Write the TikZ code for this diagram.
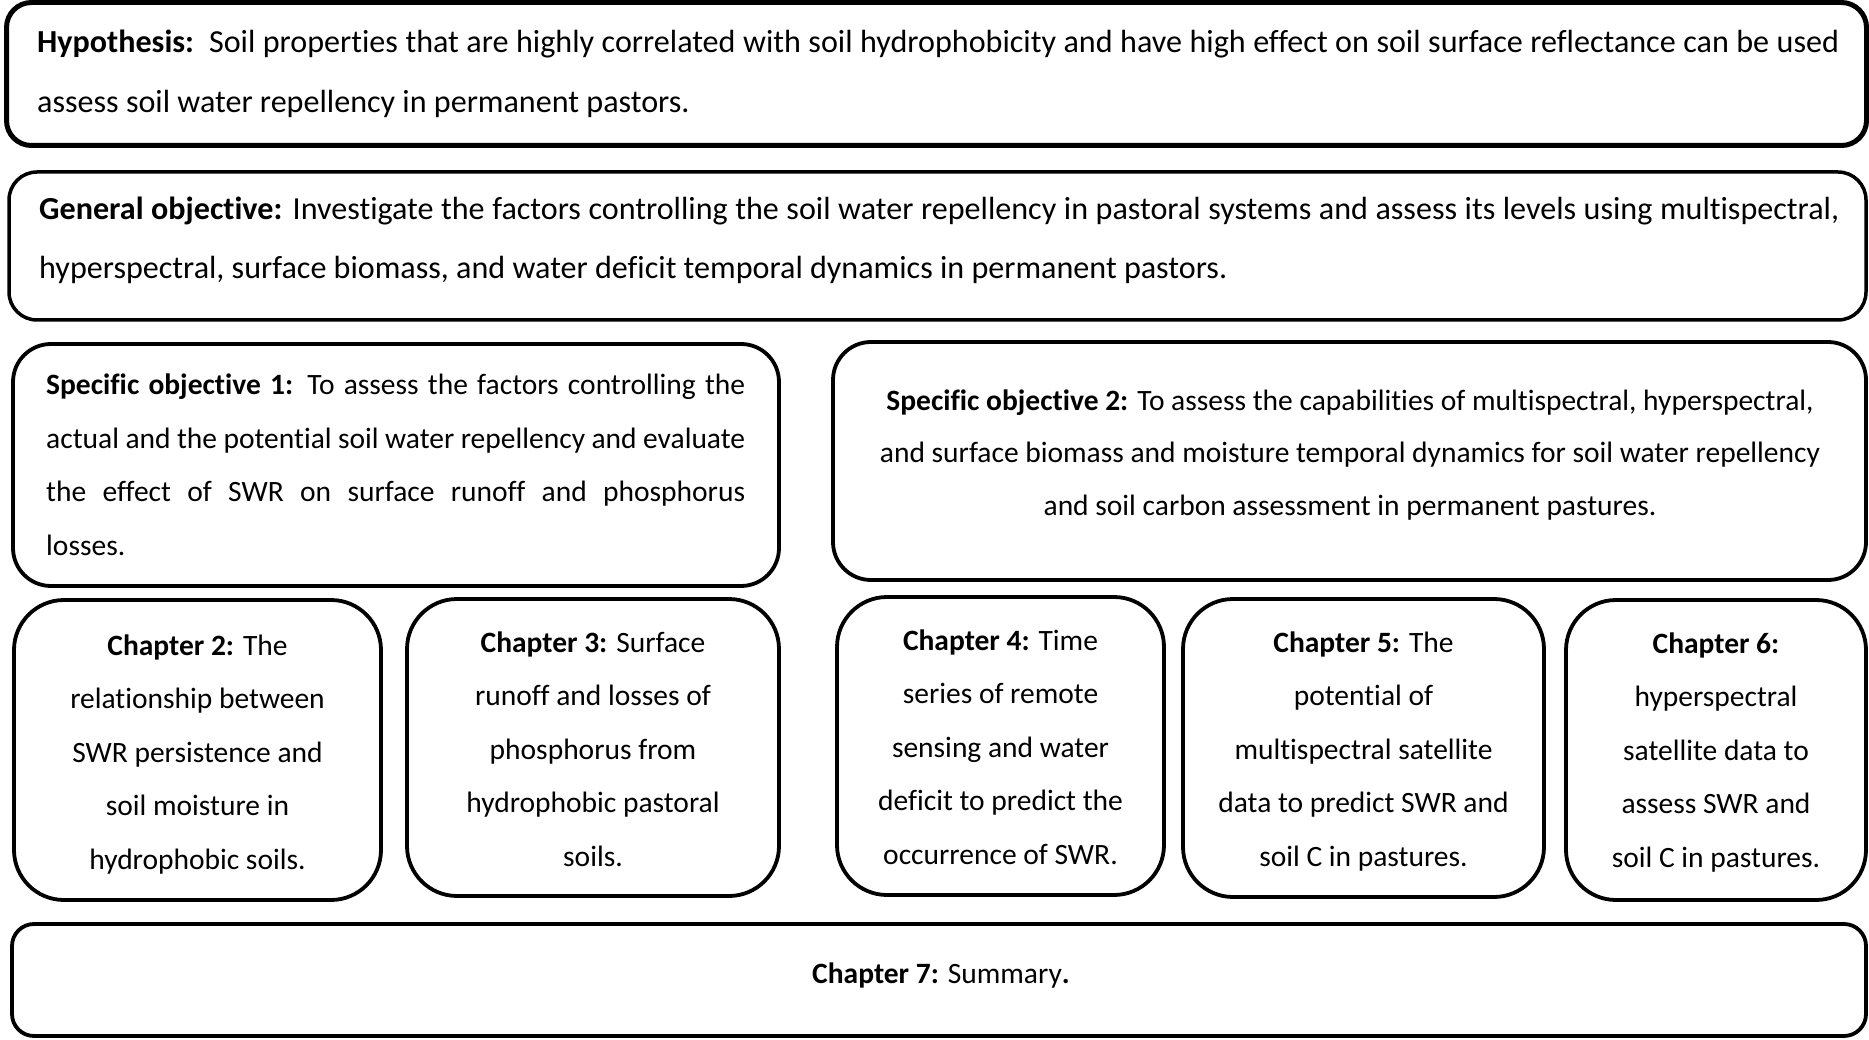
\documentclass[tikz,border=0pt]{standalone}
\usepackage{fontspec}
\setmainfont{Carlito}[Ligatures=NoCommon]
\tikzset{
  frame/.style={draw=black, line width=3.8pt, rounded corners=50pt, inner sep=0pt, fill=white},
  txt/.style={inner sep=0pt, anchor=base, font=\fontsize{29.5}{53.5}\selectfont},
  bigtxt/.style={inner sep=0pt, anchor=base west, font=\fontsize{32.1}{59.5}\selectfont},
}
\newcommand{\cbox}[2]{\parbox[t]{#1}{\centering #2}}
\newcommand{\jline}[1]{\makebox[\linewidth][s]{#1}}
\begin{document}
\begin{tikzpicture}[x=1pt,y=-1pt]
\useasboundingbox[fill=white] (0,0) rectangle (1869,1040);
% boxes
\node[frame, line width=5pt, rounded corners=25pt, minimum width=1860pt, minimum height=143pt] (hyp) at (936.5,74) {};
\node[frame, line width=3.5pt, rounded corners=28pt, minimum width=1857pt, minimum height=148pt] (gen) at (937.5,246) {};
\node[frame, rounded corners=38pt, minimum width=766pt, minimum height=242pt] (so1) at (396,465) {};
\node[frame, rounded corners=38pt, minimum width=1033pt, minimum height=238pt] (so2) at (1349.5,461) {};
\node[frame, minimum width=367pt, minimum height=300pt] (ch2) at (197.5,750) {};
\node[frame, minimum width=372pt, minimum height=297pt] (ch3) at (593,747.5) {};
\node[frame, minimum width=327pt, minimum height=298pt] (ch4) at (1000.5,746) {};
\node[frame, minimum width=361pt, minimum height=298pt] (ch5) at (1363.5,748) {};
\node[frame, minimum width=300pt, minimum height=300pt] (ch6) at (1716,750) {};
\node[frame, rounded corners=22pt, minimum width=1854pt, minimum height=112pt] (ch7) at (939,980) {};
% texts
\node[bigtxt] (hyptxt) at (37,53) {\parbox[t]{1802pt}{\jline{\textbf{Hypothesis:}\ \ Soil properties that are highly correlated with soil hydrophobicity and have high effect on soil surface reflectance can be used}\\ assess soil water repellency in permanent pastors.}};
\node[bigtxt, font=\fontsize{32.1}{58.5}\selectfont] (gentxt) at (39,220) {\parbox[t]{1800pt}{\jline{\textbf{General objective:} Investigate the factors controlling the soil water repellency in pastoral systems and assess its levels using multispectral,}\\ hyperspectral, surface biomass, and water deficit temporal dynamics in permanent pastors.}};
\node[txt, anchor=base west] (so1txt) at (46,395) {\parbox[t]{699pt}{\jline{\textbf{Specific objective 1:} To assess the factors controlling the}\\ \jline{actual and the potential soil water repellency and evaluate}\\ \jline{the effect of SWR on surface runoff and phosphorus}\\ losses.}};
\node[txt, font=\fontsize{29.5}{52.5}\selectfont] (so2txt) at (1350,410) {\cbox{1000pt}{\textbf{Specific objective 2:} To assess the capabilities of multispectral, hyperspectral,\\ and surface biomass and moisture temporal dynamics for soil water repellency\\ and soil carbon assessment in permanent pastures.}};
\node[txt] (ch2txt) at (197.5,655) {\cbox{340pt}{\textbf{Chapter 2:} The\\ relationship between\\ SWR persistence and\\ soil moisture in\\ hydrophobic soils.}};
\node[txt] (ch3txt) at (593,652) {\cbox{345pt}{\textbf{Chapter 3:} Surface\\ runoff and losses of\\ phosphorus from\\ hydrophobic pastoral\\ soils.}};
\node[txt] (ch4txt) at (1000.5,650) {\cbox{300pt}{\textbf{Chapter 4:} Time\\ series of remote\\ sensing and water\\ deficit to predict the\\ occurrence of SWR.}};
\node[txt] (ch5txt) at (1363.5,652) {\cbox{340pt}{\textbf{Chapter 5:} The\\ potential of\\ multispectral satellite\\ data to predict SWR and\\ soil C in pastures.}};
\node[txt] (ch6txt) at (1716,653) {\cbox{280pt}{\textbf{Chapter 6:}\\ hyperspectral\\ satellite data to\\ assess SWR and\\ soil C in pastures.}};
\node[txt] (ch7txt) at (941,983) {\textbf{Chapter 7:} Summary\textbf{.}};
\end{tikzpicture}
\end{document}
